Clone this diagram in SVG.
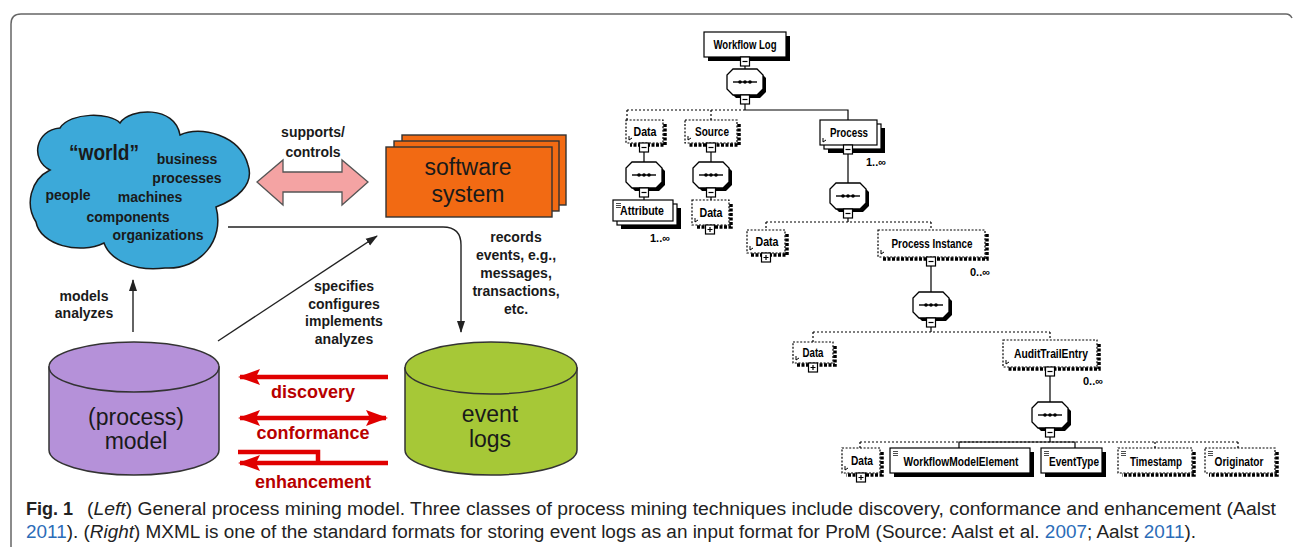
<svg xmlns="http://www.w3.org/2000/svg" xmlns:xlink="http://www.w3.org/1999/xlink" width="1293" height="547" viewBox="0 0 1293 547">
<style>
.lbl{font-family:"Liberation Sans",Arial,sans-serif;font-weight:bold;font-size:14px;fill:#1a1a1a;text-anchor:middle}
.wld{font-family:"Liberation Sans",Arial,sans-serif;font-weight:bold;font-size:22px;fill:#1a1a1a;text-anchor:middle}
.big{font-family:"Liberation Sans",Arial,sans-serif;font-size:23px;fill:#1a1a1a;text-anchor:middle}
.red{font-family:"Liberation Sans",Arial,sans-serif;font-weight:bold;font-size:18px;fill:#b80000;text-anchor:middle}
.ln{fill:none;stroke:#222;stroke-width:1.4}
.rl{fill:none;stroke:#e00000;stroke-width:4.5}
.x{font-family:"Liberation Sans",Arial,sans-serif;font-weight:bold;font-size:13px;fill:#000;text-anchor:middle}
.m{font-family:"Liberation Sans",Arial,sans-serif;font-weight:bold;font-size:11px;fill:#000}
.bx{fill:#fff;stroke:#000;stroke-width:1.2}
.dbx{fill:#fff;stroke:#000;stroke-width:1.2;stroke-dasharray:2 1.6}
.sh{fill:#000}
.dsh{fill:none;stroke:#000;stroke-width:3.5;stroke-dasharray:3 1.5}
.tl{fill:none;stroke:#000;stroke-width:1.2}
.td{fill:none;stroke:#000;stroke-width:1.2;stroke-dasharray:2 2}
.cap{font-family:"Liberation Sans",Arial,sans-serif;font-size:18px;fill:#222}
.lk{fill:#2b6cb8}
.cyl{stroke:#333;stroke-width:1.5}
</style>
<defs>
<marker id="ah" viewBox="0 0 12 10" refX="11" refY="5" markerWidth="12" markerHeight="10" markerUnits="userSpaceOnUse" orient="auto"><path d="M0,1 L12,5 L0,9 Z" fill="#222"/></marker>
<marker id="rh" viewBox="0 0 22 16" refX="20" refY="8" markerWidth="22" markerHeight="16" markerUnits="userSpaceOnUse" orient="auto-start-reverse"><path d="M0,0 L22,8 L0,16 L4,8 Z" fill="#e00000"/></marker>
<g id="seq">
<polygon points="-9,-10 15,-10 21,-4 21,10 15,16 -9,16 -15,10 -15,-4" fill="#000"/>
<polygon points="-12,-13 12,-13 18,-7 18,7 12,13 -12,13 -18,7 -18,-7" fill="#fff" stroke="#000" stroke-width="1.3"/>
<path d="M-12 0 H12" stroke="#000" stroke-width="1.4"/>
<circle cx="-5" cy="0" r="1.8"/><circle cx="0" cy="0" r="1.8"/><circle cx="5" cy="0" r="1.8"/>
</g>
<g id="minus"><rect x="-4.5" y="0" width="9" height="9" class="bx"/><path d="M-2.5 4.5 H2.5" stroke="#000" stroke-width="1.2"/></g>
<g id="plus"><rect x="-4.5" y="0" width="9" height="9" class="bx"/><path d="M-2.5 4.5 H2.5 M0 2 V7" stroke="#000" stroke-width="1.2"/></g>
<g id="simp"><path d="M0 0.5 H5 M0 2.5 H5 M0 4.5 H5" stroke="#000" stroke-width="0.7"/></g>
<g id="cplx"><path d="M0 0 V-4 M0 0 L3 -2" stroke="#000" stroke-width="1"/></g>
</defs>

<rect width="1293" height="547" fill="#fff"/>
<path d="M11 547 V24 Q11 14 21 14 H1286 Q1290 14 1292 18" fill="none" stroke="#666" stroke-width="1.5"/>

<!-- Left diagram nodes -->
<g id="world">
<path d="M50 170 C30 160 35 130 60 128 C70 112 110 112 120 123 C130 108 175 105 180 135 C200 125 240 135 248 165 C255 185 235 200 216 207 C225 240 200 270 165 268 C135 272 110 260 104 243 C80 255 40 245 36 222 C25 205 30 180 50 170 Z" fill="#3ca9d9" stroke="#1a1a1a" stroke-width="1.5"/>
<text class="wld" x="104" y="160" textLength="70" lengthAdjust="spacingAndGlyphs">“world”</text>
<text class="lbl" x="187" y="164">business</text>
<text class="lbl" x="187" y="183">processes</text>
<text class="lbl" x="68" y="200">people</text>
<text class="lbl" x="150" y="202">machines</text>
<text class="lbl" x="128" y="222">components</text>
<text class="lbl" x="158" y="240">organizations</text>
</g>

<g id="software">
<rect x="402" y="135" width="164" height="70" fill="#f26a13" stroke="#333" stroke-width="1.4"/>
<rect x="394" y="141" width="165" height="70" fill="#f26a13" stroke="#333" stroke-width="1.4"/>
<rect x="386" y="147" width="166" height="70" fill="#f26a13" stroke="#333" stroke-width="1.4"/>
<text class="big" x="468" y="175">software</text>
<text class="big" x="468" y="202">system</text>
</g>

<g id="model">
<path class="cyl" d="M49 367 V450 A85 25 0 0 0 219 450 V367 Z" fill="#b591d9"/>
<ellipse class="cyl" cx="134" cy="367" rx="85" ry="25" fill="#b591d9"/>
<text class="big" x="136" y="425">(process)</text>
<text class="big" x="136" y="449">model</text>
</g>

<g id="eventlogs">
<path class="cyl" d="M405 368 V450 A86 25 0 0 0 577 450 V368 Z" fill="#a6c837"/>
<ellipse class="cyl" cx="491" cy="368" rx="86" ry="26" fill="#a6c837"/>
<text class="big" x="490" y="422">event</text>
<text class="big" x="490" y="447">logs</text>
</g>

<!-- Right diagram nodes -->
<g id="workflowlog">
<rect class="sh" x="708" y="36" width="82" height="25"/>
<rect class="bx" x="704" y="32" width="82" height="25"/>
<text class="x" x="745" y="49" textLength="63" lengthAdjust="spacingAndGlyphs">Workflow Log</text>
<use xlink:href="#minus" x="745" y="57"/>
</g>
<g id="data1">
<path class="dsh" d="M665 124 V145 H630"/>
<rect class="dbx" x="626" y="120" width="37" height="23"/>
<use xlink:href="#cplx" x="629" y="140"/>
<text class="x" x="645" y="136" textLength="23" lengthAdjust="spacingAndGlyphs">Data</text>
<use xlink:href="#minus" x="644" y="143"/>
</g>
<g id="source">
<path class="dsh" d="M739 124 V145 H689"/>
<rect class="dbx" x="685" y="120" width="52" height="23"/>
<use xlink:href="#cplx" x="688" y="140"/>
<text class="x" x="712" y="136" textLength="34" lengthAdjust="spacingAndGlyphs">Source</text>
<use xlink:href="#minus" x="711" y="143"/>
</g>
<g id="attribute">
<rect class="sh" x="621" y="208" width="60" height="21"/>
<rect class="bx" x="617" y="204" width="60" height="21"/>
<rect class="bx" x="613" y="200" width="60" height="21"/>
<use xlink:href="#simp" x="616" y="203"/>
<text class="x" x="642" y="215" textLength="44" lengthAdjust="spacingAndGlyphs">Attribute</text>
<text class="m" x="650" y="242">1..∞</text>
</g>
<g id="data2">
<path class="dsh" d="M731 204 V227 H696"/>
<rect class="dbx" x="692" y="200" width="37" height="25"/>
<use xlink:href="#cplx" x="695" y="222"/>
<text class="x" x="711" y="217" textLength="23" lengthAdjust="spacingAndGlyphs">Data</text>
<use xlink:href="#plus" x="710" y="225"/>
</g>
<g id="process">
<rect class="sh" x="828" y="128" width="57" height="25"/>
<rect class="bx" x="824" y="124" width="57" height="25"/>
<rect class="bx" x="820" y="120" width="57" height="25"/>
<use xlink:href="#cplx" x="823" y="142"/>
<text class="x" x="849" y="137" textLength="38" lengthAdjust="spacingAndGlyphs">Process</text>
<use xlink:href="#minus" x="848" y="145"/>
<text class="m" x="866" y="166">1..∞</text>
</g>
<g id="data3">
<path class="dsh" d="M787 234 V255 H751"/>
<rect class="dbx" x="747" y="230" width="38" height="23"/>
<use xlink:href="#cplx" x="750" y="250"/>
<text class="x" x="767" y="246" textLength="23" lengthAdjust="spacingAndGlyphs">Data</text>
<use xlink:href="#plus" x="766" y="253"/>
</g>
<g id="processinstance">
<path class="dsh" d="M987 234 V259 H882"/>
<rect class="dbx" x="878" y="230" width="107" height="27"/>
<use xlink:href="#cplx" x="881" y="254"/>
<text class="x" x="932" y="248" textLength="81" lengthAdjust="spacingAndGlyphs">Process Instance</text>
<use xlink:href="#minus" x="931" y="257"/>
<text class="m" x="970" y="276">0..∞</text>
</g>
<g id="data4">
<path class="dsh" d="M835 346 V365 H797"/>
<rect class="dbx" x="793" y="342" width="40" height="21"/>
<use xlink:href="#cplx" x="796" y="360"/>
<text class="x" x="813" y="357" textLength="21" lengthAdjust="spacingAndGlyphs">Data</text>
<use xlink:href="#plus" x="813" y="363"/>
</g>
<g id="audittrailentry">
<path class="dsh" d="M1099 344 V369 H1007"/>
<rect class="dbx" x="1003" y="340" width="94" height="27"/>
<use xlink:href="#cplx" x="1006" y="364"/>
<text class="x" x="1051" y="358" textLength="74" lengthAdjust="spacingAndGlyphs">AuditTrailEntry</text>
<use xlink:href="#minus" x="1050" y="367"/>
<text class="m" x="1083" y="385">0..∞</text>
</g>
<g id="data5">
<path class="dsh" d="M882 452 V475 H846"/>
<rect class="dbx" x="842" y="448" width="38" height="25"/>
<use xlink:href="#cplx" x="845" y="470"/>
<text class="x" x="862" y="465" textLength="22" lengthAdjust="spacingAndGlyphs">Data</text>
<use xlink:href="#plus" x="861" y="473"/>
</g>
<g id="workflowmodelelement">
<rect class="sh" x="894" y="452" width="140" height="25"/>
<rect class="bx" x="890" y="448" width="140" height="25"/>
<use xlink:href="#simp" x="893" y="451"/>
<text class="x" x="961" y="466" textLength="115" lengthAdjust="spacingAndGlyphs">WorkflowModelElement</text>
</g>
<g id="eventtype">
<rect class="sh" x="1045" y="452" width="61" height="25"/>
<rect class="bx" x="1041" y="448" width="61" height="25"/>
<use xlink:href="#simp" x="1044" y="451"/>
<text class="x" x="1074" y="466" textLength="50" lengthAdjust="spacingAndGlyphs">EventType</text>
</g>
<g id="timestamp">
<path class="dsh" d="M1194 452 V475 H1122"/>
<rect class="dbx" x="1118" y="448" width="74" height="25"/>
<use xlink:href="#simp" x="1121" y="451"/>
<text class="x" x="1156" y="466" textLength="52" lengthAdjust="spacingAndGlyphs">Timestamp</text>
</g>
<g id="originator">
<path class="dsh" d="M1277 452 V475 H1209"/>
<rect class="dbx" x="1205" y="448" width="70" height="25"/>
<use xlink:href="#simp" x="1208" y="451"/>
<text class="x" x="1239" y="466" textLength="49" lengthAdjust="spacingAndGlyphs">Originator</text>
</g>

<!-- Connectors -->
<g id="connectors">
<polygon points="257,182 283,160 283,172 342,172 342,160 368,182 342,205 342,192 283,192 283,205" fill="#f4a3a3" stroke="#555" stroke-width="1.3"/>
<text class="lbl" x="313" y="137">supports/</text>
<text class="lbl" x="313" y="157">controls</text>
<path class="ln" d="M228 227 H443 Q461 227 461 245 V332" marker-end="url(#ah)"/>
<text class="lbl" x="516" y="242">records</text>
<text class="lbl" x="516" y="260">events, e.g.,</text>
<text class="lbl" x="516" y="278">messages,</text>
<text class="lbl" x="516" y="296">transactions,</text>
<text class="lbl" x="516" y="314">etc.</text>
<path class="ln" d="M218 341 L377 236" marker-end="url(#ah)"/>
<text class="lbl" x="344" y="291">specifies</text>
<text class="lbl" x="344" y="309">configures</text>
<text class="lbl" x="344" y="326">implements</text>
<text class="lbl" x="344" y="344">analyzes</text>
<path class="ln" d="M133 332 V280" marker-end="url(#ah)"/>
<text class="lbl" x="84" y="301">models</text>
<text class="lbl" x="84" y="318">analyzes</text>
<path class="rl" d="M388 377 H240" marker-end="url(#rh)"/>
<text class="red" x="313" y="398">discovery</text>
<path class="rl" d="M240 418 H386" marker-start="url(#rh)" marker-end="url(#rh)"/>
<text class="red" x="313" y="439">conformance</text>
<path class="rl" d="M238 452 H318 V463"/>
<path class="rl" d="M388 463 H240" marker-end="url(#rh)"/>
<text class="red" x="313" y="488">enhancement</text>

<path class="tl" d="M745 66 V69 M745 104 V110 M745 110 H848 V120"/>
<path class="td" d="M627 110 H745 M627 110 V120 M711 110 V120"/>
<path class="tl" d="M644 152 V162 M644 197 V200 M711 152 V162 M711 197 V200"/>
<path class="tl" d="M848 154 V183 M848 218 V222"/>
<path class="td" d="M766 222 H931 M766 222 V230 M931 222 V230"/>
<path class="tl" d="M931 266 V292 M931 327 V332"/>
<path class="td" d="M813 332 H1050 M813 332 V342 M1050 332 V340"/>
<path class="tl" d="M1050 376 V402 M1050 437 V442"/>
<path class="td" d="M860 442 H1238 M860 442 V448 M1155 442 V448 M1238 442 V448"/>
<path class="tl" d="M959 448 V442 H1075 V448"/>
<use xlink:href="#seq" x="745" y="82"/>
<use xlink:href="#minus" x="745" y="95"/>
<use xlink:href="#seq" x="644" y="175"/>
<use xlink:href="#minus" x="644" y="188"/>
<use xlink:href="#seq" x="711" y="175"/>
<use xlink:href="#minus" x="711" y="188"/>
<use xlink:href="#seq" x="848" y="196"/>
<use xlink:href="#minus" x="848" y="209"/>
<use xlink:href="#seq" x="931" y="305"/>
<use xlink:href="#minus" x="931" y="318"/>
<use xlink:href="#seq" x="1050" y="415"/>
<use xlink:href="#minus" x="1050" y="428"/>
</g>

<!-- Caption -->
<g id="caption">
<text class="cap" x="26" y="515" font-weight="bold">Fig. 1</text>
<text class="cap" x="87" y="515" textLength="1189" lengthAdjust="spacingAndGlyphs">(<tspan font-style="italic">Left</tspan>) General process mining model. Three classes of process mining techniques include discovery, conformance and enhancement (Aalst</text>
<text class="cap" x="26" y="538" textLength="1170" lengthAdjust="spacingAndGlyphs"><tspan class="lk">2011</tspan>). (<tspan font-style="italic">Right</tspan>) MXML is one of the standard formats for storing event logs as an input format for ProM (Source: Aalst et al. <tspan class="lk">2007</tspan>; Aalst <tspan class="lk">2011</tspan>).</text>
</g>
</svg>
